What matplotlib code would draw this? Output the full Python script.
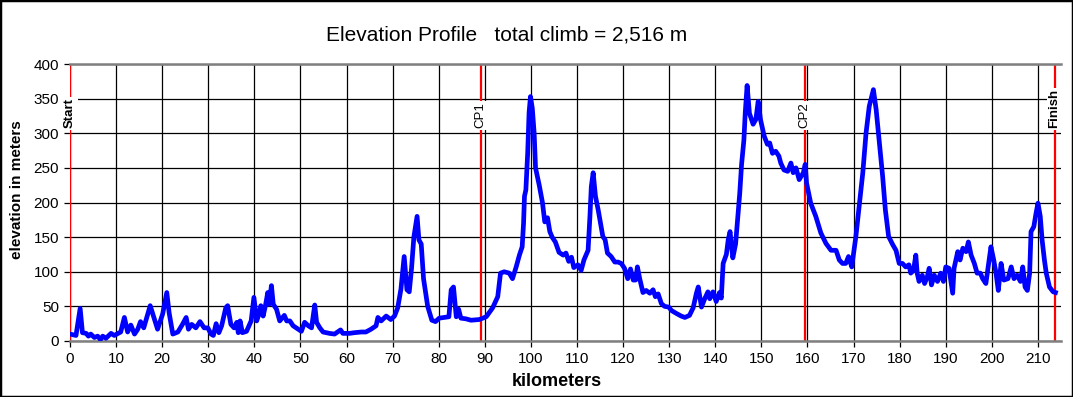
import matplotlib
matplotlib.use("Agg")
import matplotlib.pyplot as plt
from matplotlib.patches import Rectangle

plt.rcParams['font.family'] = ['Liberation Sans', 'DejaVu Sans']

# ---- data ----
km = [0.0, 1.3, 2.2, 2.7, 3.5, 4.0, 4.5, 5.3, 6.0, 6.6, 7.1, 7.8, 8.9, 9.6, 11.0, 11.8, 12.5, 13.2,
      14.0, 14.7, 15.3, 16.0, 17.4, 18.1, 19.0, 20.1, 21.0, 21.5, 22.3, 23.4, 24.4, 25.2, 25.7, 26.4,
      27.3, 28.2, 29.1, 29.9, 30.6, 31.1, 31.7, 32.3, 32.9, 33.8, 34.2, 34.9, 35.6, 36.2, 36.5, 36.9,
      37.4, 38.3, 39.3, 39.9, 40.5, 41.0, 41.4, 41.9, 42.4, 42.9, 43.2, 43.7, 44.1, 44.8, 45.5, 46.5,
      47.0, 47.7, 48.4, 49.5, 50.2, 50.9, 51.7, 52.4, 53.1, 53.5, 54.2, 54.9, 56.3, 57.4, 58.7, 59.2,
      60.6, 61.7, 63.2, 64.2, 65.3, 66.4, 66.8, 67.5, 68.6, 69.6, 70.4, 71.1, 71.8, 72.5, 73.1, 73.6,
      74.1, 74.6, 75.3, 75.7, 76.2, 76.7, 77.6, 78.5, 79.3, 80.1, 81.2, 82.2, 82.7, 83.2, 83.8, 84.3,
      84.8, 85.9, 87.0, 88.8, 90.3, 91.7, 92.8, 93.4, 94.2, 95.3, 96.0, 96.8, 97.5, 98.1, 98.4, 98.6,
      98.9, 99.3, 99.6, 99.9, 100.3, 100.7, 101.0, 101.8, 102.5, 103.0, 103.6, 104.1, 104.6, 105.3,
      106.1, 107.0, 107.6, 108.2, 108.8, 109.3, 110.2, 110.9, 111.5, 112.4, 112.8, 113.1, 113.5, 114.0,
      114.6, 115.1, 115.6, 116.1, 116.6, 117.4, 118.2, 118.9, 119.6, 120.3, 121.0, 121.6, 122.2, 122.7,
      123.1, 123.6, 124.3, 125.0, 125.8, 126.5, 127.0, 127.6, 128.3, 129.0, 129.9, 130.5, 131.5, 132.6,
      133.4, 134.4, 135.2, 135.9, 136.3, 137.0, 137.7, 138.4, 138.8, 139.5, 140.2, 140.9, 141.3, 141.7,
      142.4, 142.8, 143.2, 143.8, 144.4, 145.3, 145.7, 146.2, 146.5, 146.9, 147.4, 148.2, 148.8, 149.3,
      149.8, 150.6, 151.3, 151.8, 152.4, 153.1, 153.8, 154.2, 154.9, 155.7, 156.4, 156.9, 157.5, 158.2,
      159.1, 159.5, 159.8, 160.7, 161.8, 162.9, 164.0, 165.1, 166.2, 166.9, 167.6, 168.3, 168.9, 169.6,
      170.5, 171.2, 172.0, 172.7, 173.4, 174.3, 174.9, 175.6, 176.3, 176.9, 177.6, 178.5, 179.2, 179.9,
      180.6, 181.3, 182.0, 182.4, 183.0, 183.5, 183.8, 184.2, 184.9, 185.4, 186.0, 186.4, 186.9, 187.5,
      188.2, 188.9, 189.5, 190.0, 190.7, 191.5, 191.8, 192.6, 193.1, 193.7, 194.4, 194.9, 195.5, 196.2,
      196.8, 197.5, 198.0, 198.7, 199.3, 199.8, 200.4, 200.9, 201.4, 202.0, 202.6, 203.5, 204.2, 204.8,
      205.5, 206.2, 206.7, 207.2, 207.7, 208.2, 208.5, 209.1, 209.6, 210.0, 210.5, 210.9, 211.4, 211.8,
      212.5, 213.3, 213.8]
elevation = [10, 8, 47, 12, 11, 7, 10, 5, 7, 2, 7, 4, 11, 8, 13, 34, 13, 23,
             10, 17, 28, 19, 51, 36, 17, 39, 70, 41, 10, 13, 24, 34, 17, 24,
             19, 28, 19, 19, 10, 8, 25, 12, 22, 48, 51, 24, 19, 27, 12, 29,
             12, 14, 29, 63, 29, 39, 51, 36, 51, 70, 53, 80, 53, 46, 29, 37,
             29, 29, 22, 17, 14, 27, 22, 19, 52, 27, 19, 13, 11, 10, 16, 11,
             11, 12, 13, 13, 17, 22, 34, 29, 36, 31, 36, 48, 75, 122, 74, 71,
             105, 150, 180, 146, 140, 90, 50, 30, 28, 33, 34, 35, 74, 78, 35, 46,
             33, 32, 30, 31, 35, 48, 64, 98, 100, 98, 90, 107, 124, 136, 170, 209,
             218, 272, 330, 353, 336, 300, 250, 225, 200, 172, 178, 158, 150, 143,
             128, 124, 127, 115, 121, 106, 110, 102, 117, 131, 180, 223, 243, 209,
             189, 170, 151, 146, 127, 122, 114, 114, 112, 105, 90, 104, 88, 88,
             107, 90, 70, 73, 69, 74, 64, 68, 54, 50, 49, 44, 40, 36,
             34, 37, 48, 69, 78, 49, 61, 71, 61, 71, 57, 70, 62, 112,
             125, 146, 158, 120, 140, 213, 255, 290, 330, 369, 329, 313, 320, 346,
             320, 296, 284, 286, 271, 274, 267, 257, 247, 245, 257, 243, 250, 233,
             243, 255, 228, 199, 180, 156, 141, 131, 131, 117, 112, 112, 122, 107,
             151, 194, 243, 300, 339, 363, 334, 286, 238, 189, 151, 139, 131, 112,
             112, 107, 110, 98, 102, 124, 98, 86, 95, 83, 93, 105, 81, 95,
             86, 98, 86, 107, 105, 69, 105, 129, 117, 134, 129, 143, 124, 112,
             98, 98, 90, 83, 112, 136, 117, 98, 73, 112, 88, 90, 107, 90,
             95, 86, 107, 78, 73, 98, 158, 165, 185, 199, 180, 146, 117, 98,
             78, 71, 70]

markers = ["Start", "CP1", "CP2", "Finish"]
marker_km = [0.0, 89.1, 159.4, 213.6]
marker_bold = [True, False, False, True]

x_ticks = list(range(0, 220, 10))
y_ticks = list(range(0, 450, 50))

title = "Elevation Profile   total climb = 2,516 m"
xlabel = "kilometers"
ylabel = "elevation in meters"

# ---- figure ----
W, H = 1073, 397
fig = plt.figure(figsize=(W / 100, H / 100), dpi=100)
fig.patch.set_facecolor('white')
ax = fig.add_axes([70 / W, 1 - 341 / H, (1061 - 70) / W, (341 - 64) / H])

ax.set_xlim(0, 215)
ax.set_ylim(0, 400)
ax.set_xticks(x_ticks)
ax.set_yticks(y_ticks)
ax.grid(True, color='black', linewidth=0.9, zorder=0)
ax.set_axisbelow(True)

for s in ['left', 'right']:
    ax.spines[s].set_visible(False)
for s in ['top', 'bottom']:
    ax.spines[s].set_color('#808080')
    ax.spines[s].set_linewidth(1.8)

ax.tick_params(axis='both', direction='out', length=4, width=0.9, color='black',
               labelsize=11, pad=4)
ax.tick_params(axis='y', left=True)

for name, xk, b in zip(markers, marker_km, marker_bold):
    ax.axvline(xk, color='#FF0000', linewidth=1.6, zorder=2)
    ax.text(xk, 307, name, rotation=90, ha='center', va='bottom', fontsize=9.5,
            fontweight='bold' if b else 'normal', zorder=4,
            bbox=dict(facecolor='white', edgecolor='none', boxstyle='square,pad=0.12'))

ax.plot(km, elevation, color='#0000FF', linewidth=3.4, zorder=3, solid_joinstyle='round')

fig.text(507 / W, 1 - 35 / H, title, ha='center', va='center', fontsize=15)
fig.text(557 / W, 1 - 381 / H, xlabel, ha='center', va='center', fontsize=13, fontweight='bold')
fig.text(17 / W, 1 - 190 / H, ylabel, ha='center', va='center', fontsize=11,
         fontweight='bold', rotation=90)

fig.patches.append(Rectangle((0, 0), 1, 1, transform=fig.transFigure, fill=False,
                             edgecolor='black', linewidth=2.5, figure=fig))

fig.savefig('out.png', dpi=100)
